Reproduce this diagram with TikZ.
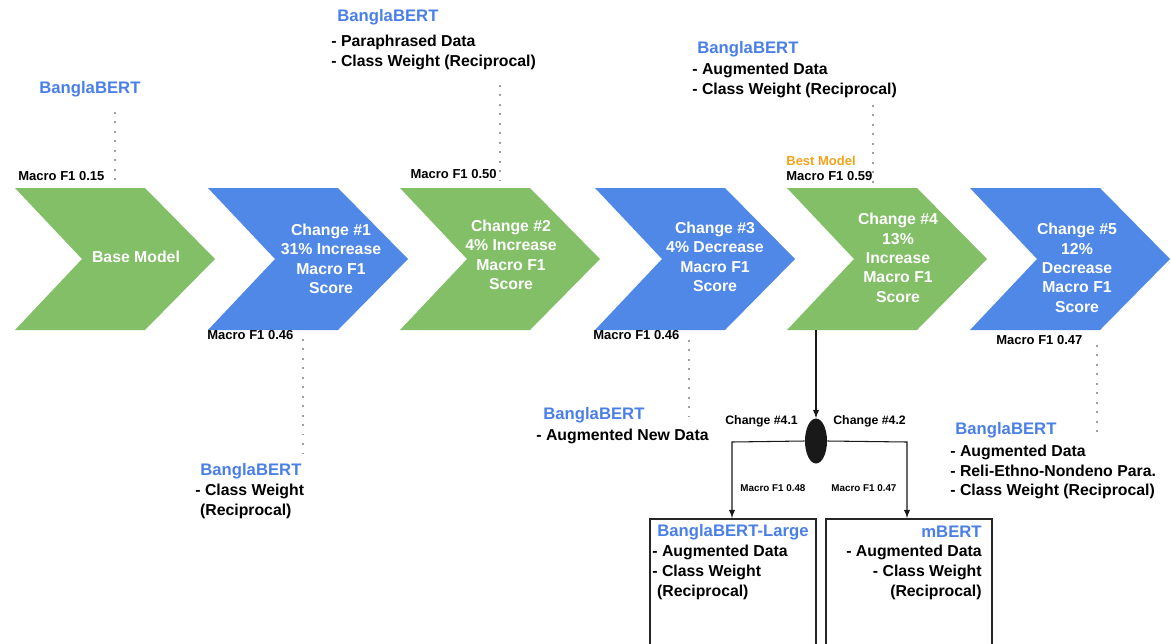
\documentclass[tikz,border=0pt]{standalone}
\usepackage{fontspec}
\setmainfont{Liberation Sans}
\usepackage{tikz}
\usetikzlibrary{arrows,shapes.geometric}

\definecolor{chevgreen}{HTML}{82BF66}
\definecolor{chevblue}{HTML}{4F88E6}
\definecolor{bertblue}{HTML}{4A7FE8}
\definecolor{bestorange}{HTML}{F5A21B}
\definecolor{dotgray}{HTML}{A0A0A0}

\tikzset{
	every node/.style={inner sep=0pt},
	stage/.style={text=white,align=center,font=\bfseries\fontsize{9}{11}\selectfont},
	model/.style={text=bertblue,font=\bfseries\fontsize{9.5}{11}\selectfont},
	items/.style={align=left,font=\bfseries\fontsize{9}{11.3}\selectfont},
	score/.style={font=\bfseries\fontsize{7.4}{9}\selectfont},
	subscore/.style={font=\bfseries\fontsize{5.6}{7}\selectfont},
	link/.style={dotgray,line width=0.9pt,dash pattern=on 0.9pt off 4.5pt},
	branch/.style={black!90,line width=0.6pt,-latex},
}

\begin{document}
\begin{tikzpicture}[x=0.2mm,y=-0.2mm]
		\path[use as bounding box,clip] (0,0) rectangle (1171,643);
%		\draw[help lines,step=50] (0,0) grid (1171,643);

		% chevrons
		\fill[chevgreen] (15,188) -- (145,188) -- (215,259) -- (145,330) -- (15,330) -- (82,259) -- cycle;
		\fill[chevblue] (208,188) -- (338,188) -- (408,259) -- (338,330) -- (208,330) -- (275,259) -- cycle;
		\fill[chevgreen] (400,188) -- (530,188) -- (600,259) -- (530,330) -- (400,330) -- (467,259) -- cycle;
		\fill[chevblue] (595,188) -- (725,188) -- (795,259) -- (725,330) -- (595,330) -- (662,259) -- cycle;
		\fill[chevgreen] (787,188) -- (917,188) -- (987,259) -- (917,330) -- (787,330) -- (854,259) -- cycle;
		\fill[chevblue] (970,188) -- (1100,188) -- (1170,259) -- (1100,330) -- (970,330) -- (1037,259) -- cycle;

		\path (136,257) node(base) [stage] {Base Model};
		\path (331,259) node(chg1) [stage] {Change \#1\\31\% Increase\\Macro F1\\Score};
		\path (511,255) node(chg2) [stage] {Change \#2\\4\% Increase\\Macro F1\\Score};
		\path (715,257) node(chg3) [stage] {Change \#3\\4\% Decrease\\Macro F1\\Score};
		\path (898,258) node(chg4) [stage] {Change \#4\\13\%\\Increase\\Macro F1\\Score};
		\path (1077,268) node(chg5) [stage] {Change \#5\\12\%\\Decrease\\Macro F1\\Score};

		% upper notes
		\path (39,89) node(bb_base) [model,anchor=west] {BanglaBERT};
		\path (18,176) node(f1_base) [score,anchor=west] {Macro F1 0.15};
		\path (115,112) coordinate (dot_base_top);
		\path (115,184) coordinate (dot_base_bot);

		\path (337,17) node(bb_chg2) [model,anchor=west] {BanglaBERT};
		\path (331,35) node(it_chg2) [items,anchor=north west] {- Paraphrased Data\\- Class Weight (Reciprocal)};
		\path (497,174) node(f1_chg2) [score,anchor=east] {Macro F1 0.50};
		\path (500,85) coordinate (dot_chg2_top);
		\path (500,184) coordinate (dot_chg2_bot);

		\path (697,49) node(bb_chg4) [model,anchor=west] {BanglaBERT};
		\path (692,63) node(it_chg4) [items,anchor=north west] {- Augmented Data\\- Class Weight (Reciprocal)};
		\path (786,161) node(best) [score,anchor=west,text=bestorange] {Best Model};
		\path (786,176) node(f1_chg4) [score,anchor=west] {Macro F1 0.59};
		\path (873,105) coordinate (dot_chg4_top);
		\path (873,184) coordinate (dot_chg4_bot);

		% lower notes
		\path (207,335) node(f1_chg1) [score,anchor=west] {Macro F1 0.46};
		\path (200,471) node(bb_chg1) [model,anchor=west] {BanglaBERT};
		\path (195,484) node(it_chg1) [items,anchor=north west] {- Class Weight\\\hspace*{0.3em}(Reciprocal)};
		\path (303,339) coordinate (dot_chg1_top);
		\path (303,457) coordinate (dot_chg1_bot);

		\path (593,335) node(f1_chg3) [score,anchor=west] {Macro F1 0.46};
		\path (543,415) node(bb_chg3) [model,anchor=west] {BanglaBERT};
		\path (536,436) node(it_chg3) [items,anchor=west] {- Augmented New Data};
		\path (689,340) coordinate (dot_chg3_top);
		\path (689,417) coordinate (dot_chg3_bot);

		\path (996,340) node(f1_chg5) [score,anchor=west] {Macro F1 0.47};
		\path (955,430) node(bb_chg5) [model,anchor=west] {BanglaBERT};
		\path (950,445) node(it_chg5) [items,anchor=north west,font=\bfseries\fontsize{9}{11}\selectfont] {- Augmented Data\\- Reli-Ethno-Nondeno Para.\\- Class Weight (Reciprocal)};
		\path (1097,345) coordinate (dot_chg5_top);
		\path (1097,433) coordinate (dot_chg5_bot);

		\draw[link] (dot_base_top) -- (dot_base_bot);
		\draw[link] (dot_chg2_top) -- (dot_chg2_bot);
		\draw[link] (dot_chg4_top) -- (dot_chg4_bot);
		\draw[link] (dot_chg1_top) -- (dot_chg1_bot);
		\draw[link] (dot_chg3_top) -- (dot_chg3_bot);
		\draw[link] (dot_chg5_top) -- (dot_chg5_bot);

		% branch of change #4
		\path (816,330) coordinate (chg4_bot);
		\path (816,441) node(split) [ellipse,fill=black!90,minimum width=4.4mm,minimum height=9mm] {};
		\path (732,442) coordinate (split_left);
		\path (907,442) coordinate (split_right);
		\path (725,421) node(chg41) [score,anchor=west,font=\bfseries\fontsize{7}{8}\selectfont] {Change \#4.1};
		\path (833,421) node(chg42) [score,anchor=west,font=\bfseries\fontsize{7}{8}\selectfont] {Change \#4.2};
		\path (740,488) node(f1_chg41) [subscore,anchor=west] {Macro F1 0.48};
		\path (831,488) node(f1_chg42) [subscore,anchor=west] {Macro F1 0.47};

		\path (649,518) node(large) [draw=black!85,line width=0.9pt,anchor=north west,minimum width=33.2mm,minimum height=30mm] {};
		\path (825,518) node(mbert) [draw=black!85,line width=0.9pt,anchor=north west,minimum width=33.2mm,minimum height=30mm] {};
		\path (657,532) node(bb_large) [model,anchor=west] {BanglaBERT-Large};
		\path (652,545) node(it_large) [items,anchor=north west] {- Augmented Data\\- Class Weight\\\hspace*{0.3em}(Reciprocal)};
		\path (982,532) node(bb_mbert) [model,anchor=east] {mBERT};
		\path (982,545) node(it_mbert) [items,align=right,anchor=north east] {- Augmented Data\\- Class Weight\\(Reciprocal)};

		\draw[branch] (chg4_bot) -- (split.north);
		\draw[branch] (split.west) -- (split_left) -- (split_left |- large.north);
		\draw[branch] (split.east) -- (split_right) -- (split_right |- mbert.north);
	\end{tikzpicture}
\end{document}
